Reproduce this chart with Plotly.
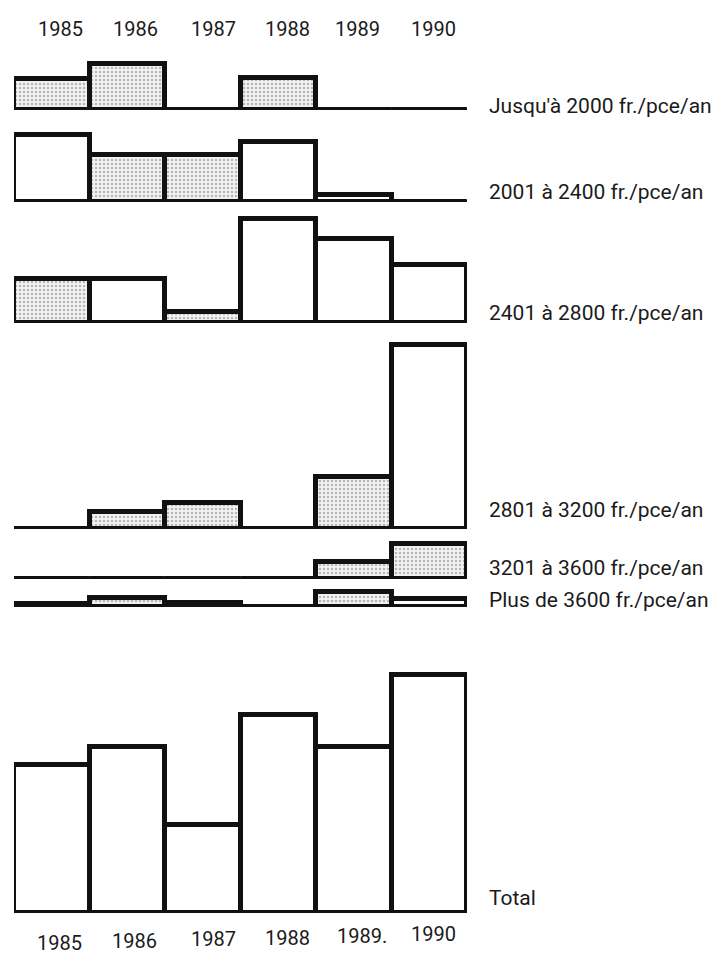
import plotly.graph_objects as go

# the page body adds an 8 px margin; reference pixel p maps to figure pixel p - OFF
OFF = 8
WF, HF = 712, 947

years = ["1985", "1986", "1987", "1988", "1989", "1990"]
top_year_labels = ["1985", "1986", "1987", "1988", "1989", "1990"]
bottom_year_labels = ["1985", "1986", "1987", "1988", "1989.", "1990"]

categories = [
    "Jusqu'à 2000 fr./pce/an",
    "2001 à 2400 fr./pce/an",
    "2401 à 2800 fr./pce/an",
    "2801 à 3200 fr./pce/an",
    "3201 à 3600 fr./pce/an",
    "Plus de 3600 fr./pce/an",
    "Total",
]

# heights (arbitrary units, same scale for every panel)
v_jusqu_2000 = [31, 46, 0, 32, 0, 0]
v_2001_2400 = [67, 47, 47, 60, 7, 0]
v_2401_2800 = [44, 44, 11, 104, 84, 58]
v_2801_3200 = [0, 17, 26, 0, 52, 184]
v_3201_3600 = [0, 0, 0, 0, 17, 35]
v_plus_3600 = [3, 9, 4, 0, 15, 8]
v_total = [148, 166, 88, 198, 166, 238]

# 1 = stippled bar, 0 = white bar
s_jusqu_2000 = [1, 1, 0, 1, 0, 0]
s_2001_2400 = [0, 1, 1, 0, 0, 0]
s_2401_2800 = [1, 0, 1, 0, 0, 0]
s_2801_3200 = [0, 1, 1, 0, 1, 0]
s_3201_3600 = [0, 0, 0, 0, 1, 1]
s_plus_3600 = [0, 1, 0, 0, 1, 0]
s_total = [0, 0, 0, 0, 0, 0]

values = [v_jusqu_2000, v_2001_2400, v_2401_2800, v_2801_3200,
          v_3201_3600, v_plus_3600, v_total]
shades = [s_jusqu_2000, s_2001_2400, s_2401_2800, s_2801_3200,
          s_3201_3600, s_plus_3600, s_total]

# layout (reference pixels): baseline of each panel, panel height, label centre
baselines = [110, 202, 323, 529, 579, 607, 913]
panel_h = [60, 80, 115, 190, 40, 20, 245]
label_y = [106, 192, 313, 510, 568, 600, 898]

FONT = "Roboto, Lato, sans-serif"
INK = "#1a1a1a"


def px(p):
    return (p - OFF) / WF


def py(p):
    return 1 - (p - OFF) / HF


x0px, x1px = 14, 467
bar_w = (x1px - x0px) / len(years)

fig = go.Figure()

for k, (vals, sh) in enumerate(zip(values, shades)):
    yname = "y" if k == 0 else f"y{k+1}"
    fig.add_trace(go.Bar(
        x=years, y=vals, yaxis=yname, xaxis="x",
        width=1, offset=-0.5,
        cliponaxis=False,
        marker=dict(
            color="white",
            line=dict(color="#111111", width=5),
            pattern=dict(
                shape=["." if s else "" for s in sh],
                fgcolor="#7a7a7a", bgcolor="#f2f2f2",
                size=4, solidity=0.3,
            ),
        ),
        showlegend=False, hoverinfo="x+y",
    ))
    b, h = baselines[k], panel_h[k]
    fig.layout["yaxis" if k == 0 else f"yaxis{k+1}"] = dict(
        domain=[py(b), py(b - h)],
        range=[0, h], visible=False, anchor="x", fixedrange=True,
    )
    fig.add_shape(type="line", xref="paper", yref=yname,
                  x0=px(x0px), x1=px(x1px), y0=0, y1=0,
                  line=dict(color="#111111", width=5), layer="above")
    fig.add_annotation(text=categories[k], xref="paper", yref="paper",
                       x=px(487), y=py(label_y[k]),
                       xanchor="left", yanchor="middle", showarrow=False,
                       font=dict(family=FONT, size=21, color=INK))

fig.update_layout(
    xaxis=dict(domain=[px(x0px), px(x1px)], range=[-0.5, 5.5],
               visible=False, type="category", fixedrange=True),
)

top_shift = [9, 8, 11, 9, 4, 4]
for i, lab in enumerate(top_year_labels):
    cx = x0px + bar_w * (i + 0.5) + top_shift[i]
    fig.add_annotation(text=lab, xref="paper", yref="paper",
                       x=px(cx), y=py(29), showarrow=False,
                       xanchor="center", yanchor="middle",
                       font=dict(family=FONT, size=20, color=INK))

bottom_shift = [8, 7, 11, 9, 8, 4]
for i, lab in enumerate(bottom_year_labels):
    cx = x0px + bar_w * (i + 0.5) + bottom_shift[i]
    fig.add_annotation(text=lab, xref="paper", yref="paper",
                       x=px(cx), y=py(943 - 1.8 * i), showarrow=False,
                       xanchor="center", yanchor="middle",
                       font=dict(family=FONT, size=20, color=INK))

fig.update_layout(
    width=WF, height=HF,
    margin=dict(l=0, r=0, t=0, b=0),
    paper_bgcolor="white", plot_bgcolor="white",
    bargap=0,
)

fig.write_html("out.html")
